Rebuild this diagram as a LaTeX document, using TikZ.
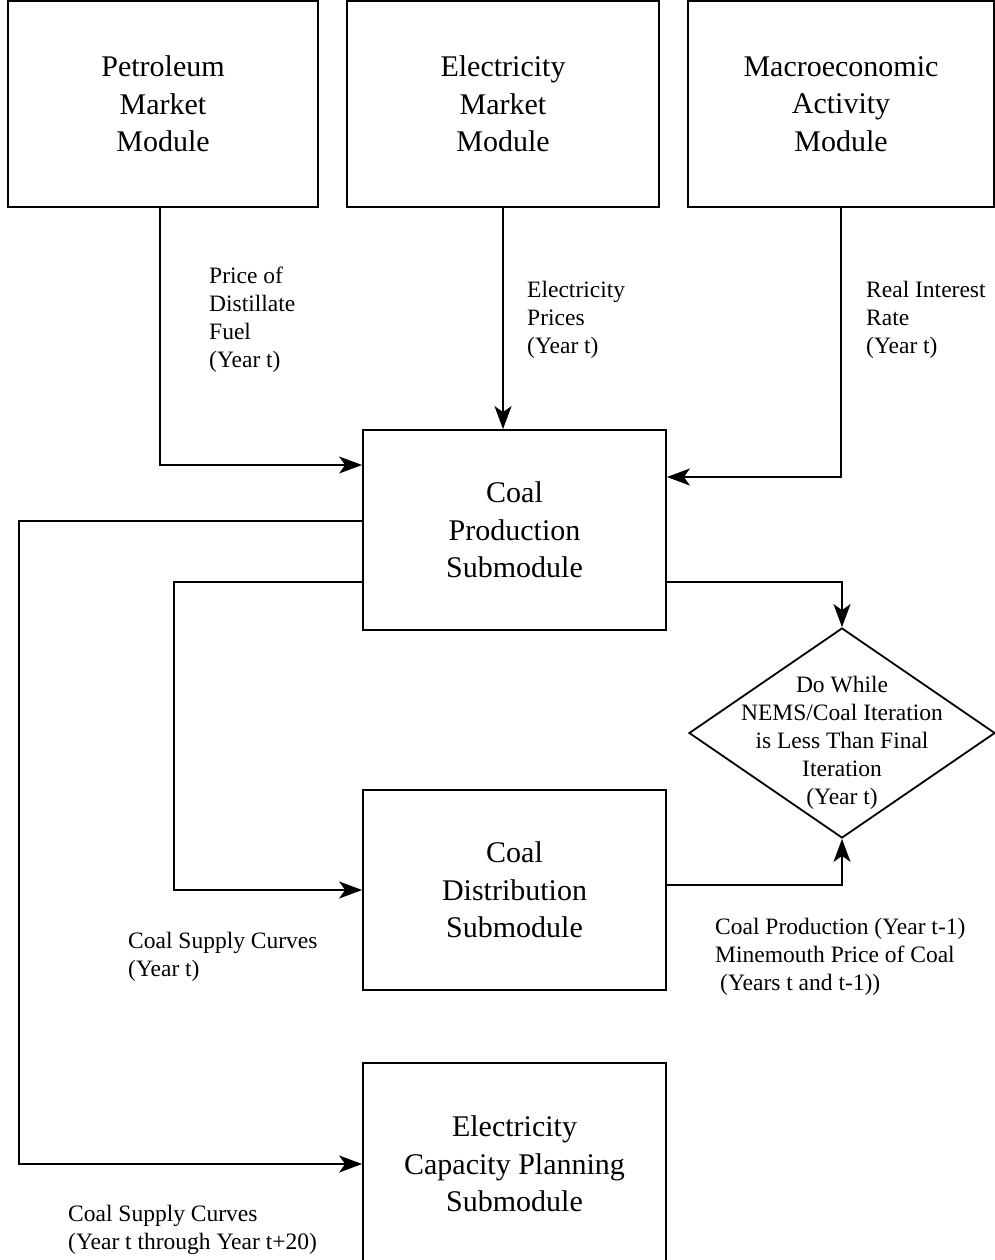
\documentclass[tikz,border=0pt]{standalone}
\usepackage{fontspec}
\setmainfont{Liberation Serif}
\usetikzlibrary{arrows.meta,shapes.geometric}

\begin{document}
\begin{tikzpicture}
[x=1pt,y=-1pt,
  boxDecorate/.style={shape=rectangle,draw,line width=1.8pt,align=center,
    inner sep=0pt,font=\fontsize{30}{37.5}\selectfont},
  loopDecorate/.style={shape=diamond,draw,line width=1.8pt,inner sep=0pt,
    minimum width=306pt,minimum height=210pt},
  labelDecorate/.style={anchor=west,align=left,inner sep=0pt,
    font=\fontsize{23.5}{28}\selectfont},
  arrowDecorate/.style={-{Stealth[length=23pt,width=17pt,inset=6pt]},line width=1.8pt}]
\useasboundingbox (0,0) rectangle (995,1260);
%% modules and submodules
\foreach \nodename/\x/\y/\w/\h/\txt in {
  petrol/163/104/310/206/{Petroleum\\Market\\Module},
  elecMarket/503/104/312/206/{Electricity\\Market\\Module},
  macro/841/104/306/206/{Macroeconomic\\Activity\\Module},
  production/514.5/530/303/200/{Coal\\Production\\Submodule},
  distribution/514.5/890/303/200/{Coal\\Distribution\\Submodule},
  capacity/514.5/1164/303/202/{Electricity\\Capacity Planning\\Submodule}}
{
  \node (\nodename) at (\x,\y) [boxDecorate,minimum width=\w pt,minimum height=\h pt] {\txt};
}
%% iteration test
\node (loop) at (842,733) [loopDecorate] {};
\node (loopText) at (842,743) [align=center,inner sep=0pt,
  font=\fontsize{23.5}{28}\selectfont]
  {Do While\\NEMS/Coal Iteration\\is Less Than Final\\Iteration\\(Year t)};
%% labels
\node (priceLabel) at (209,320) [labelDecorate] {Price of\\Distillate\\Fuel\\(Year t)};
\node (elecLabel) at (527,320) [labelDecorate] {Electricity\\Prices\\(Year t)};
\node (rateLabel) at (866,320) [labelDecorate] {Real Interest\\Rate\\(Year t)};
\node (supplyLabel) at (128,957) [labelDecorate] {Coal Supply Curves\\(Year t)};
\node (feedbackLabel) at (715,957) [labelDecorate]
  {Coal Production (Year t-1)\\Minemouth Price of Coal\\\hspace*{5pt}(Years t and t-1))};
\node (longSupplyLabel) at (68,1230) [labelDecorate]
  {Coal Supply Curves\\(Year t through Year t+20)};
%% connectors
\draw[arrowDecorate] ([xshift=-3pt]petrol.south) |- ([yshift=65pt]production.west);
\draw[arrowDecorate] (elecMarket.south) -- (elecMarket.south |- production.north);
\draw[arrowDecorate] (macro.south) |- ([yshift=53pt]production.east);
\draw[arrowDecorate] ([yshift=9pt]production.west) -- ++(-343,0) |- (capacity.west);
\draw[arrowDecorate] ([yshift=-52pt]production.west) -- ++(-188,0) |- (distribution.west);
\draw[arrowDecorate] ([yshift=-52pt]production.east) -| (loop.north);
\draw[arrowDecorate] ([yshift=5pt]distribution.east) -| (loop.south);
\end{tikzpicture}
\end{document}
